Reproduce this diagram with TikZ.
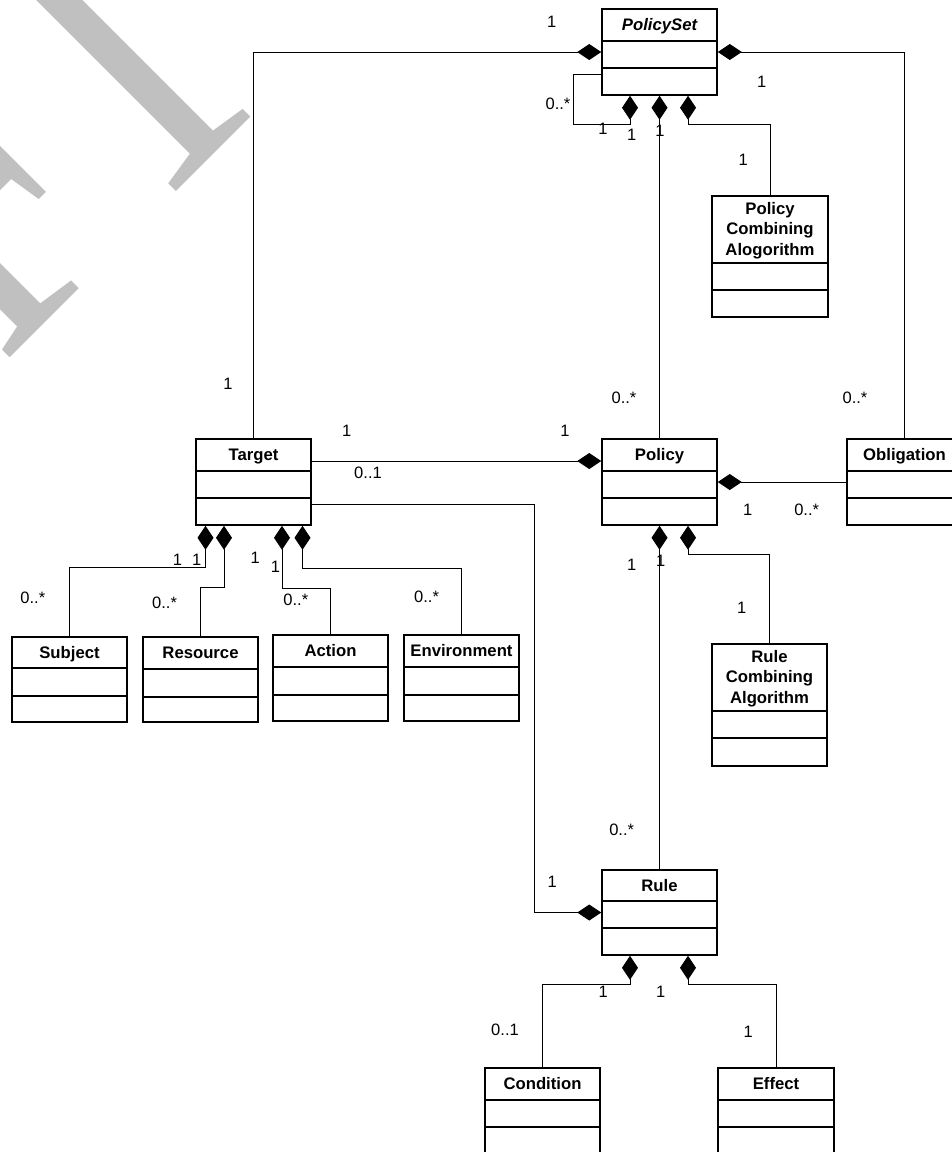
\documentclass[tikz,border=0pt]{standalone}
\usepackage{fontspec}
\setmainfont{Liberation Sans}
\newfontfamily\wmfont{Liberation Serif}
\usetikzlibrary{arrows.meta,fit}
\definecolor{wmgray}{RGB}{192,192,192}
\tikzset{
  clsbox/.style={draw=black, line width=1.5pt, inner sep=0pt},
  clsline/.style={draw=black, line width=1.5pt},
  clstitle/.style={font=\fontsize{16.7}{20.5}\selectfont\bfseries, inner sep=0pt, anchor=base},
  clstitlemulti/.style={font=\fontsize{16.7}{20.5}\selectfont\bfseries, inner sep=0pt, anchor=north, align=center},
  comp/.style={draw=black, line width=1pt, -{Diamond[length=24pt,width=16pt]}},
  mult/.style={font=\fontsize{16.5}{20}\selectfont, inner sep=0pt},
  watermark/.style={text=wmgray, font=\wmfont\fontsize{425}{425}\selectfont, rotate=45, anchor=base east, inner sep=0pt},
}
% name, left, top, right, bottom, sep1, sep2
\newcommand{\umlcls}[7]{%
  \node[clsbox, fit={(#2,#3) (#4,#5)}] (#1) {};
  \draw[clsline] (#2,#6) -- (#4,#6);
  \draw[clsline] (#2,#7) -- (#4,#7);
}
\begin{document}
\begin{tikzpicture}[x=1pt,y=-1pt]
\useasboundingbox (0,0) rectangle (952,1152);
\begin{scope}
  \clip (0,0) rectangle (952,1152);
  \node[watermark] (wm) at (289,79) {\scalebox{0.82}[1]{DRAFT}};
\end{scope}

% classes
\umlcls{policyset}{602}{9}{717}{95}{41}{68}
\node[clstitle] (policyset-t) at (659.5,30.8) {\itshape PolicySet};
\umlcls{pca}{712}{196}{828}{317}{263}{290}
\node[clstitlemulti] (pca-t) at (770,201.8) {Policy\\Combining\\Alogorithm};
\umlcls{target}{196}{439}{311}{525}{471}{498}
\node[clstitle] (target-t) at (253.5,460.8) {Target};
\umlcls{policy}{602}{439}{717}{525}{471}{498}
\node[clstitle] (policy-t) at (659.5,460.8) {Policy};
\umlcls{obligation}{847}{439}{962}{525}{471}{498}
\node[clstitle] (obligation-t) at (904.5,460.8) {Obligation};
\umlcls{rca}{712}{644}{827}{766}{711}{738}
\node[clstitlemulti] (rca-t) at (769.5,649.8) {Rule\\Combining\\Algorithm};
\umlcls{rule}{602}{870}{717}{955}{901}{928}
\node[clstitle] (rule-t) at (659.5,891.3) {Rule};
\umlcls{subject}{12}{637}{127}{722}{668}{696}
\node[clstitle] (subject-t) at (69.5,658.3) {Subject};
\umlcls{resource}{143}{637}{258}{722}{669}{697}
\node[clstitle] (resource-t) at (200.5,658.8) {Resource};
\umlcls{action}{273}{635}{388}{721}{667}{695}
\node[clstitle] (action-t) at (330.5,656.8) {Action};
\umlcls{environment}{404}{635}{519}{721}{667}{695}
\node[clstitle] (environment-t) at (461.5,656.8) {Environment};
\umlcls{condition}{485}{1068}{600}{1170}{1100}{1127}
\node[clstitle] (condition-t) at (542.5,1089.8) {Condition};
\umlcls{effect}{718}{1068}{834}{1170}{1100}{1127}
\node[clstitle] (effect-t) at (776,1089.8) {Effect};

% waypoints
\coordinate (loopA) at (573,74);
\coordinate (loopB) at (630,124);
\coordinate (pcaK) at (688,124);
\coordinate (tpY) at (0,461);
\coordinate (trK) at (534,504);
\coordinate (rcaK) at (688,554);
\coordinate (subK) at (205.5,567);
\coordinate (resK) at (224,587);
\coordinate (actK) at (282,588);
\coordinate (envK) at (302.5,568);
\coordinate (conK) at (630,984);
\coordinate (effK) at (688,984);

% connectors
\draw[comp] (target.north) |- (policyset.west);
\draw[comp] (obligation.north) |- (policyset.east);
\draw[comp] (policyset.west |- loopA) -- (loopA) |- (loopB) -- (loopB |- policyset.south);
\draw[comp] (policy.north) -- (policyset.south);
\draw[comp] (pca.north) |- (pcaK) -- (pcaK |- policyset.south);
\draw[comp] (target.east |- tpY) -- (policy.west |- tpY);
\draw[comp] (target.east |- trK) -- (trK) |- (rule.west);
\draw[comp] (obligation.west) -- (policy.east);
\draw[comp] (rule.north) -- (policy.south);
\draw[comp] (rca.north) |- (rcaK) -- (rcaK |- policy.south);
\draw[comp] (subject.north) |- (subK) -- (subK |- target.south);
\draw[comp] (resource.north) |- (resK) -- (resK |- target.south);
\draw[comp] (action.north) |- (actK) -- (actK |- target.south);
\draw[comp] (environment.north) |- (envK) -- (envK |- target.south);
\draw[comp] (condition.north) |- (conK) -- (conK |- rule.south);
\draw[comp] (effect.north) |- (effK) -- (effK |- rule.south);

% multiplicities
\node[mult] (m1) at (551.7,21.7) {1};
\node[mult] (m2) at (228,384) {1};
\node[mult] (m3) at (761.7,82) {1};
\node[mult] (m4) at (855,398) {0..*};
\node[mult] (m5) at (558,104) {0..*};
\node[mult] (m6) at (603,129) {1};
\node[mult] (m7) at (631.7,135) {1};
\node[mult] (m8) at (660,130.7) {1};
\node[mult] (m9) at (624,398) {0..*};
\node[mult] (m10) at (743.3,160) {1};
\node[mult] (m11) at (346.7,430.7) {1};
\node[mult] (m12) at (565,430.7) {1};
\node[mult] (m13) at (368,473) {0..1};
\node[mult] (m14) at (552.3,881.7) {1};
\node[mult] (m15) at (747.7,510) {1};
\node[mult] (m16) at (806.7,510) {0..*};
\node[mult] (m17) at (631.7,565) {1};
\node[mult] (m18) at (660.7,561) {1};
\node[mult] (m19) at (621.7,830) {0..*};
\node[mult] (m20) at (741.7,607.7) {1};
\node[mult] (m21) at (177.5,560) {1};
\node[mult] (m22) at (196.7,560) {1};
\node[mult] (m23) at (255.2,558.3) {1};
\node[mult] (m24) at (275.5,566.7) {1};
\node[mult] (m25) at (32.8,597.7) {0..*};
\node[mult] (m26) at (164.6,603.3) {0..*};
\node[mult] (m27) at (295.8,600) {0..*};
\node[mult] (m28) at (426.6,596.7) {0..*};
\node[mult] (m29) at (603.3,991.7) {1};
\node[mult] (m30) at (660.7,991.7) {1};
\node[mult] (m31) at (748.3,1031.7) {1};
\node[mult] (m32) at (505,1030) {0..1};
\end{tikzpicture}
\end{document}
